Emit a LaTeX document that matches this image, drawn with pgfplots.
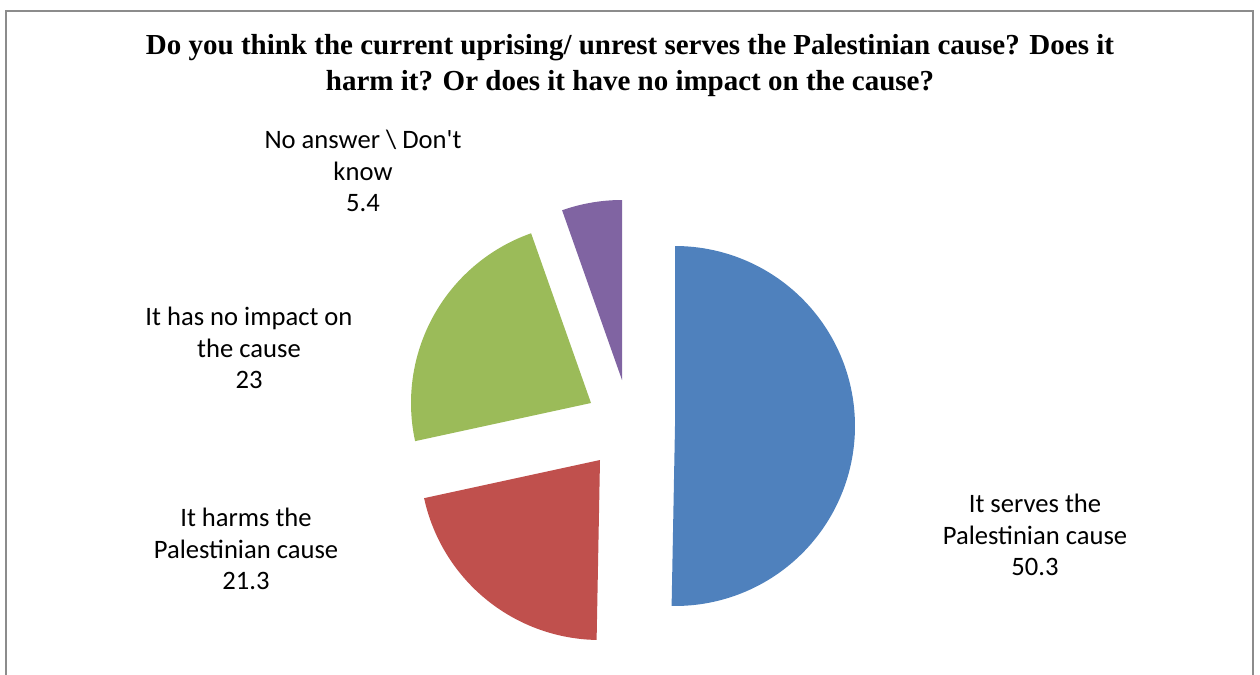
\documentclass[border=0pt]{standalone}
\usepackage{pgfplots}
\pgfplotsset{compat=1.18}
\usepackage{fontspec}
\setmainfont{Carlito}
\newfontfamily\titlefont{Liberation Serif}
\definecolor{cBlue}{HTML}{4F81BD}
\definecolor{cRed}{HTML}{C0504D}
\definecolor{cGreen}{HTML}{9BBB59}
\definecolor{cPurple}{HTML}{8064A2}
\definecolor{frame}{HTML}{8C8C8C}
% values (percent)
\def\vA{50.3}\def\vB{21.3}\def\vC{23}\def\vD{5.4}
\pgfmathsetmacro{\aA}{90}
\pgfmathsetmacro{\aB}{\aA-3.6*\vA}
\pgfmathsetmacro{\aC}{\aB-3.6*\vB}
\pgfmathsetmacro{\aD}{\aC-3.6*\vC}
\pgfmathsetmacro{\aE}{\aD-3.6*\vD}
\begin{document}
\begin{tikzpicture}
\begin{axis}[
  name=ax, anchor=south west, at={(0,0)},
  scale only axis, width=630pt, height=337.5pt,
  xmin=0, xmax=1260, ymin=0, ymax=675, y dir=reverse,
  hide axis, clip=false,
]
\addplot[draw=frame, line width=0.8pt] coordinates {(6,675) (6,11) (1253,11) (1253,675)};
% slices (explode centres)
\addplot[fill=cBlue, draw=none, domain=\aB:\aA, samples=120, variable=\t]
  ({675+180*cos(t)},{426-180*sin(t)}) -- (axis cs:675,426) -- cycle;
\addplot[fill=cRed, draw=none, domain=\aC:\aB, samples=60, variable=\t]
  ({600+180*cos(t)},{460-180*sin(t)}) -- (axis cs:600,460) -- cycle;
\addplot[fill=cGreen, draw=none, domain=\aD:\aC, samples=60, variable=\t]
  ({591+180*cos(t)},{403-180*sin(t)}) -- (axis cs:591,403) -- cycle;
\addplot[fill=cPurple, draw=none, domain=\aE:\aD, samples=20, variable=\t]
  ({622+180*cos(t)},{380-180*sin(t)}) -- (axis cs:622,380) -- cycle;
% title
\node[align=center, font=\titlefont\bfseries\fontsize{14.5}{18}\selectfont] at (axis cs:630,66)
  {Do you think the current uprising/ unrest serves the Palestinian cause? Does it\\harm it? Or does it have no impact on the cause?};
% labels
\node[align=center, font=\fontsize{13.3}{15.75}\selectfont] at (axis cs:1035,535)
  {It serves the\\Palestinian cause\\50.3};
\node[align=center, font=\fontsize{13.3}{15.75}\selectfont] at (axis cs:246,549)
  {It harms the\\Palestinian cause\\21.3};
\node[align=center, font=\fontsize{13.3}{15.75}\selectfont] at (axis cs:249,348)
  {It has no impact on\\the cause\\23};
\node[align=center, font=\fontsize{13.3}{15.75}\selectfont] at (axis cs:363,171)
  {No answer \textbackslash{} Don\textquotesingle t\\know\\5.4};
\end{axis}
\pgfresetboundingbox
\path (0,0) rectangle (630pt,337.5pt);
\end{tikzpicture}
\end{document}
